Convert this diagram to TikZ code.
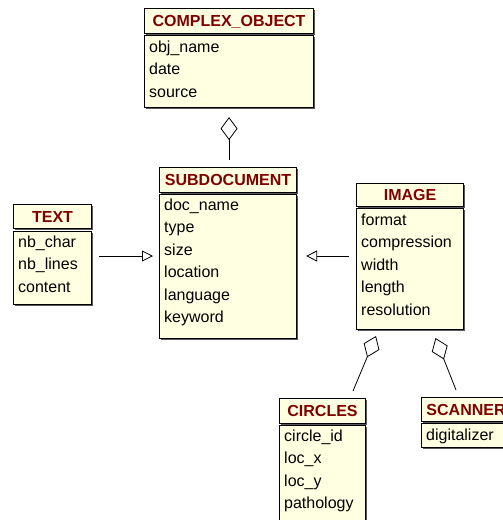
\documentclass[tikz,border=0pt]{standalone}
\usepackage{fontspec}
\setmainfont{Liberation Sans}
\usetikzlibrary{arrows.meta,shadows}
\definecolor{umlfill}{RGB}{255,255,225}
\definecolor{umlred}{RGB}{128,0,0}
\tikzset{
  umlbase/.style={draw=black, line width=1.1pt, fill=umlfill, inner sep=0pt, anchor=north west,
    drop shadow={shadow xshift=1.8pt, shadow yshift=-1.8pt, fill=black!65, opacity=1}},
  hdr/.style={umlbase, font=\fontsize{16}{19}\selectfont\bfseries, text=umlred, text height=11.5pt, text depth=0pt},
  bodybox/.style={umlbase},
  attr/.style={anchor=west, inner sep=0pt, font=\fontsize{16}{19}\selectfont, text=black, text height=11.5pt, text depth=3pt},
  gen/.style={-{Triangle[open, length=11pt, width=11pt]}, line width=0.8pt},
  agg/.style={{Diamond[open, length=23pt, width=17pt]}-, line width=0.8pt},
}
\newcommand\ubox[7]{\node[#7, minimum width={(#4-#2)*1pt}, minimum height={(#5-#3)*1pt}] (#1) at (#2,#3) {#6};}
\newcommand\uattrs[4]{\foreach \t [count=\i] in {#4} {\node[attr] (#1-\i) at ({#2}, {#3+(\i-1)*22.5}) {\t};}}
\begin{document}
\begin{tikzpicture}[x=1pt,y=-1pt]
\useasboundingbox (0,0) rectangle (503,520);
\clip (0,0) rectangle (503,520);
% COMPLEX_OBJECT
\ubox{cohdr}{144}{8}{313}{33}{COMPLEX\_OBJECT}{hdr}
\ubox{cobody}{144}{35}{313}{107}{}{bodybox}
\uattrs{co}{149}{48}{obj\_name,date,source}
% SUBDOCUMENT
\ubox{sdhdr}{159}{167}{296}{192}{SUBDOCUMENT}{hdr}
\ubox{sdbody}{159}{194}{296}{338}{}{bodybox}
\uattrs{sd}{164}{206}{doc\_name,type,size,location,language,keyword}
% TEXT
\ubox{txhdr}{13}{204}{91}{228}{TEXT}{hdr}
\ubox{txbody}{13}{231}{91}{304}{}{bodybox}
\uattrs{tx}{18}{243}{nb\_char,nb\_lines,content}
% IMAGE
\ubox{imhdr}{356}{183}{463}{206}{IMAGE}{hdr}
\ubox{imbody}{356}{208}{463}{329}{}{bodybox}
\uattrs{im}{361}{221}{format,compression,width,length,resolution}
% CIRCLES
\ubox{cihdr}{279}{398}{365}{423}{CIRCLES}{hdr}
\ubox{cibody}{279}{425}{365}{524}{}{bodybox}
\uattrs{ci}{284}{437}{circle\_id,loc\_x,loc\_y,pathology}
% SCANNER
\ubox{schdr}{421}{397}{510}{421}{SCANNER}{hdr}
\ubox{scbody}{421}{423}{510}{447}{}{bodybox}
\uattrs{sc}{426}{436}{digitalizer}
% generalisations
\draw[gen, shorten <=7pt, shorten >=6pt] (txbody.east |- 0,256) -- (sdbody.west |- 0,256);
\draw[gen, shorten <=7pt, shorten >=9pt] (imbody.west |- 0,256) -- (sdbody.east |- 0,256);
% aggregations
\draw[agg, shorten <=9pt, shorten >=7pt] (cobody.south) -- (cobody.south |- sdhdr.north);
\coordinate (ciA) at (376,336);
\coordinate (ciB) at (353,391);
\coordinate (scA) at (435.5,338);
\coordinate (scB) at (456,390);
\draw[agg] (ciA) -- (ciB);
\draw[agg] (scA) -- (scB);
\end{tikzpicture}
\end{document}
